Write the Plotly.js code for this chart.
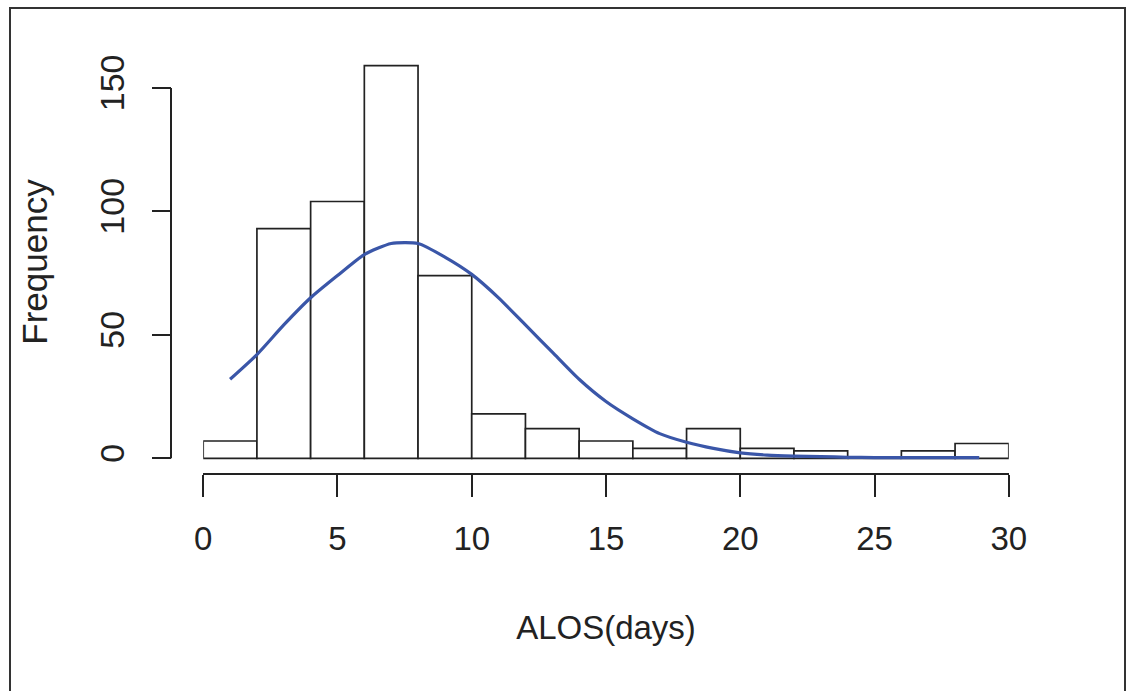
<!DOCTYPE html>
<html>
<head>
<meta charset="utf-8">
<script src="https://cdn.plot.ly/plotly-3.0.1.min.js"></script>
<style>
  html, body { margin: 0; padding: 0; background: #fff; }
  #wrap { position: relative; width: 1126px; height: 691px; overflow: hidden; }
  #chart { width: 1126px; height: 691px; }
  #frame { position: absolute; left: 9px; top: 7px; width: 1113px; height: 720px;
           border: 2px solid #333; pointer-events: none; }
</style>
</head>
<body>
<div id="wrap">
  <div id="chart"></div>
  <div id="frame"></div>
</div>
<script>
// Histogram bins (width 2 days) and their counts
const binStarts = [0, 2, 4, 6, 8, 10, 12, 14, 16, 18, 20, 22, 24, 26, 28];
const binWidth = 2;
const counts    = [7, 93, 104, 159, 74, 18, 12, 7, 4, 12, 4, 3, 0, 3, 6];

// Fitted curve
const curveX = [1, 2, 3, 4, 5, 6, 7, 8, 9, 10, 11, 12, 13, 14, 15, 16, 17, 18, 19, 20, 21, 22, 23, 24, 25, 26, 27, 28, 28.9];
const curveY = [32, 42, 54, 65, 74, 82.5, 87, 87, 81.5, 74.5, 65, 54, 43, 32, 23, 16, 10, 6.5, 4, 2.2, 1.3, 0.9, 0.7, 0.4, 0.3, 0.3, 0.3, 0.3, 0.3];

// Axis ticks
const xTicks = [0, 5, 10, 15, 20, 25, 30];
const yTicks = [0, 50, 100, 150];

const ink = '#222';
const regular = '"Liberation Sans", Arial, sans-serif';

const binCenters = binStarts.map(s => s + binWidth / 2);

const traces = [
  {
    type: 'bar',
    x: binCenters,
    y: counts,
    width: binStarts.map(() => binWidth),
    marker: { color: '#ffffff', line: { color: ink, width: 1.7 } },
    hoverinfo: 'x+y',
    showlegend: false
  },
  {
    type: 'scatter',
    mode: 'lines',
    x: curveX,
    y: curveY,
    line: { color: '#3a56a8', width: 3.2, shape: 'spline', smoothing: 0.6 },
    showlegend: false
  }
];

const W = 1126, H = 691, ML = 171, MR = 85, MT = 50, MB = 217;
// R-style 4% padding around the data range
const xSpan = xTicks[xTicks.length - 1] - xTicks[0];
const xPad = xSpan * 0.04;
const yMax = Math.max(...counts);
const yPad = yMax * 0.04;

const layout = {
  width: W, height: H,
  margin: { l: ML, r: MR, t: MT, b: MB, pad: 0 },
  paper_bgcolor: '#ffffff',
  plot_bgcolor: 'rgba(0,0,0,0)',
  bargap: 0,
  font: { family: regular, color: ink },
  xaxis: {
    domain: [xPad / (xSpan + 2 * xPad), (xSpan + xPad) / (xSpan + 2 * xPad)],
    range: [xTicks[0], xTicks[xTicks.length - 1]],
    anchor: 'free', position: 0,
    showline: true, linecolor: ink, linewidth: 2,
    ticks: 'outside', ticklen: 22, tickwidth: 2, tickcolor: ink,
    tickvals: xTicks, ticktext: xTicks.map(String),
    ticklabelstandoff: 13,
    tickfont: { family: regular, size: 33, color: ink },
    showgrid: false, zeroline: false,
    title: { text: 'ALOS(days)', font: { family: regular, size: 33, color: ink }, standoff: 59 }
  },
  yaxis: {
    range: [-yPad, yMax + yPad],
    anchor: 'free', position: 0,
    showline: false,
    ticks: 'outside', ticklen: 19, tickwidth: 2, tickcolor: ink,
    tickvals: yTicks, ticktext: yTicks.map(String),
    tickangle: -90,
    ticklabelstandoff: 14,
    tickfont: { family: regular, size: 34, color: ink },
    showgrid: false, zeroline: false,
    title: { text: 'Frequency', font: { family: regular, size: 35, color: ink }, standoff: 34 }
  },
  shapes: [
    {
      type: 'line', xref: 'paper', yref: 'y',
      x0: 0, x1: 0, y0: yTicks[0], y1: yTicks[yTicks.length - 1],
      line: { color: ink, width: 2 }
    }
  ]
};

Plotly.newPlot('chart', traces, layout, { displayModeBar: false, staticPlot: true });
</script>
</body>
</html>
